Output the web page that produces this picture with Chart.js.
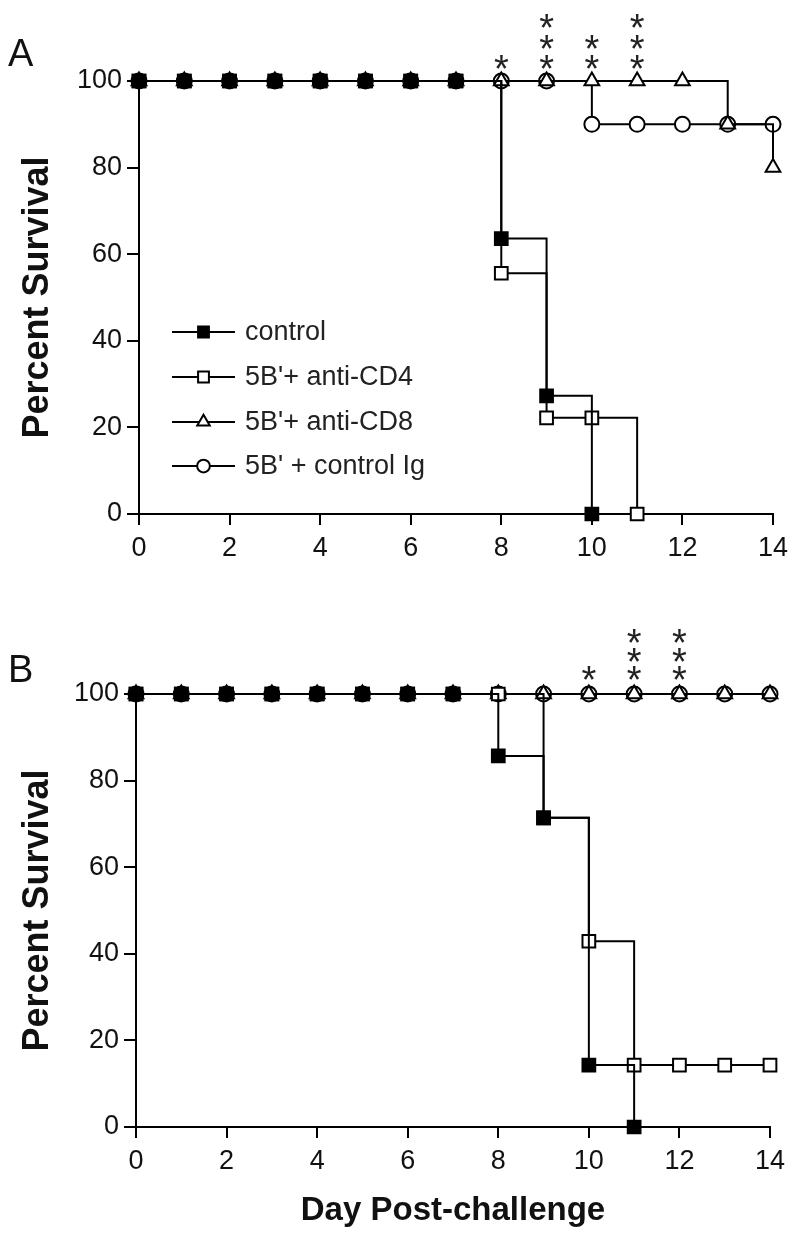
<!DOCTYPE html>
<html>
<head>
<meta charset="utf-8">
<script src="https://cdn.jsdelivr.net/npm/chart.js@4.4.1/dist/chart.umd.min.js"></script>
<style>
  body { margin: 0; background: #fff; }
  #wrap { position: relative; width: 800px; height: 1240px; font-family: 'Liberation Sans', Arial, sans-serif; }
  canvas { position: absolute; left: 0; }
  .panel-label { position: absolute; left: 8px; font-size: 38px; line-height: 1; color: #111; }
</style>
</head>
<body>
<div id="wrap">
  <canvas id="chartA" width="800" height="580" style="top:0"></canvas>
  <canvas id="chartB" width="800" height="660" style="top:580px"></canvas>
  <div class="panel-label" style="top:34px">A</div>
  <div class="panel-label" style="top:650px">B</div>
</div>
<script>
// ---- data ----
const days = [0, 1, 2, 3, 4, 5, 6, 7, 8, 9, 10, 11, 12, 13, 14];
const seriesNames = ['control', "5B'+ anti-CD4", "5B'+ anti-CD8", "5B' + control Ig"];

// panel A
const controlA = [100, 100, 100, 100, 100, 100, 100, 100, 63.6, 27.3, 0];
const cd4A     = [100, 100, 100, 100, 100, 100, 100, 100, 55.6, 22.2, 22.2, 0];
const cd8A     = [100, 100, 100, 100, 100, 100, 100, 100, 100, 100, 100, 100, 100, 90, 80];
const igA      = [100, 100, 100, 100, 100, 100, 100, 100, 100, 100, 90, 90, 90, 90, 90];
const starDaysA   = [8, 9, 10, 11];
const starCountsA = [1, 3, 2, 3];

// panel B
const controlB = [100, 100, 100, 100, 100, 100, 100, 100, 85.7, 71.4, 14.3, 0];
const cd4B     = [100, 100, 100, 100, 100, 100, 100, 100, 100, 71.4, 42.9, 14.3, 14.3, 14.3, 14.3];
const cd8B     = [100, 100, 100, 100, 100, 100, 100, 100, 100, 100, 100, 100, 100, 100, 100];
const igB      = [100, 100, 100, 100, 100, 100, 100, 100, 100, 100, 100, 100, 100, 100, 100];
const starDaysB   = [10, 11, 12];
const starCountsB = [1, 3, 3];

const yTicks = [0, 20, 40, 60, 80, 100];
const xTicks = [0, 2, 4, 6, 8, 10, 12, 14];

// ---- styles ----
const FONT = "'Liberation Sans', Arial, sans-serif";
const markers = [
  { pointStyle: 'rect',     pointRadius: 9,   fill: '#000' },
  { pointStyle: 'rect',     pointRadius: 9,   fill: '#fff' },
  { pointStyle: 'triangle', pointRadius: 8.5, fill: '#fff' },
  { pointStyle: 'circle',   pointRadius: 7.5, fill: '#fff' }
];

function toPoints(values) {
  return values.map((v, i) => ({ x: days[i], y: v }));
}

// asterisks above the 100% line
const starsPlugin = {
  id: 'stars',
  afterDatasetsDraw(chart, args, opts) {
    const { ctx, scales: { x, y } } = chart;
    const size = 38;
    ctx.save();
    ctx.fillStyle = '#222';
    ctx.font = size + 'px ' + FONT;
    ctx.textAlign = 'center';
    ctx.textBaseline = 'alphabetic';
    const base = y.getPixelForValue(100);
    opts.days.forEach((d, i) => {
      const px = x.getPixelForValue(d);
      for (let k = 0; k < opts.counts[i]; k++) {
        const cy = base - opts.offset - k * opts.spacing;
        ctx.fillText('*', px, cy + size * 0.56);
      }
    });
    ctx.restore();
  }
};

// legend drawn inside panel A
const insideLegend = {
  id: 'insideLegend',
  afterDraw(chart, args, opts) {
    if (!opts.show) return;
    const ctx = chart.ctx;
    ctx.save();
    chart.data.datasets.forEach((ds, i) => {
      const y = opts.rows[i];
      ctx.strokeStyle = '#000';
      ctx.lineWidth = 2;
      ctx.beginPath();
      ctx.moveTo(opts.x0, y);
      ctx.lineTo(opts.x1, y);
      ctx.stroke();
      ctx.fillStyle = ds.pointBackgroundColor;
      Chart.helpers.drawPoint(ctx, {
        pointStyle: ds.pointStyle, radius: ds.pointRadius * 0.85, rotation: 0, borderWidth: 2
      }, (opts.x0 + opts.x1) / 2, y);
      ctx.fillStyle = '#222';
      ctx.font = '27px ' + FONT;
      ctx.textAlign = 'left';
      ctx.textBaseline = 'middle';
      ctx.fillText(ds.label, opts.textX, y + 1);
    });
    ctx.restore();
  }
};

function makeChart(id, series, box, stars, legend, xTitle) {
  const canvas = document.getElementById(id);
  const datasets = series.map((vals, i) => ({
    label: seriesNames[i],
    data: toPoints(vals),
    stepped: 'before',
    borderColor: '#000',
    borderWidth: 2,
    pointStyle: markers[i].pointStyle,
    pointRadius: markers[i].pointRadius,
    pointBackgroundColor: markers[i].fill,
    pointBorderColor: '#000',
    pointBorderWidth: 2,
    clip: false,
    fill: false
  }));
  return new Chart(canvas, {
    type: 'line',
    data: { datasets },
    options: {
      responsive: false,
      animation: false,
      layout: { padding: { left: 0, right: 800 - box.right, top: box.top, bottom: 0 } },
      plugins: {
        legend: { display: false },
        tooltip: { enabled: false },
        stars: stars,
        insideLegend: legend
      },
      scales: {
        x: {
          type: 'linear',
          min: 0, max: 14,
          afterBuildTicks: s => { s.ticks = xTicks.map(v => ({ value: v })); },
          afterFit: s => { s.height = canvas.height - box.bottom; },
          border: { display: true, color: '#000', width: 2 },
          grid: { drawOnChartArea: false, drawTicks: true, tickLength: 11, color: '#000', lineWidth: 2 },
          ticks: { color: '#111', font: { family: FONT, size: 27 }, padding: 7, maxRotation: 0, autoSkip: false },
          title: {
            display: xTitle,
            text: 'Day Post-challenge',
            color: '#111',
            font: { family: FONT, size: 33, weight: 'bold' },
            padding: { top: 0, bottom: 9 }
          }
        },
        y: {
          type: 'linear',
          min: 0, max: 100,
          afterBuildTicks: s => { s.ticks = yTicks.map(v => ({ value: v })); },
          afterFit: s => { s.width = box.left; },
          border: { display: true, color: '#000', width: 2 },
          grid: { drawOnChartArea: false, drawTicks: true, tickLength: 12, color: '#000', lineWidth: 2 },
          ticks: { color: '#111', font: { family: FONT, size: 27 }, padding: 5 },
          title: {
            display: true,
            text: 'Percent Survival',
            color: '#111',
            font: { family: FONT, size: 36, weight: 'bold' },
            padding: { top: 16, bottom: 0 }
          }
        }
      }
    },
    plugins: [starsPlugin, insideLegend]
  });
}

makeChart('chartA', [controlA, cd4A, cd8A, igA],
  { left: 139, right: 773, top: 81, bottom: 514 },
  { days: starDaysA, counts: starCountsA, offset: 20, spacing: 20.5 },
  { show: true, rows: [332, 377, 422, 466], x0: 172, x1: 235, textX: 245 },
  false);

makeChart('chartB', [controlB, cd4B, cd8B, igB],
  { left: 136, right: 770, top: 114, bottom: 547 },
  { days: starDaysB, counts: starCountsB, offset: 22, spacing: 18.5 },
  { show: false },
  true);
</script>
</body>
</html>
